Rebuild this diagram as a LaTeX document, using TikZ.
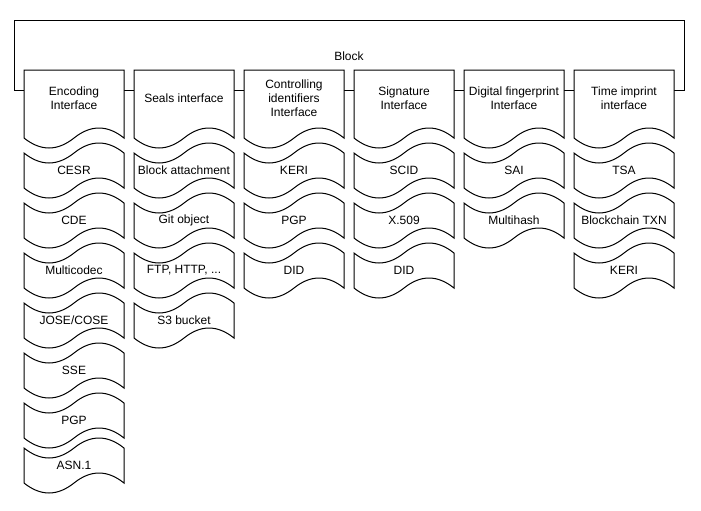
\documentclass[tikz,border=0pt]{standalone}
\usepackage{fontspec}
\setmainfont{Liberation Sans}

\tikzset{
  shapeline/.style={draw=black, fill=white, line width=0.75pt},
  boxtext/.style={align=center, inner sep=0pt, font=\fontsize{9}{10.5}\selectfont},
}

% header: flat top, wavy bottom (left x, name, text)
\newcommand{\headdoc}[3]{%
  \draw[shapeline] (#1,70) -- ({#1+100},70) -- ({#1+100},138) .. controls ({#1+83.33},124.67) and ({#1+66.67},124.67) .. ({#1+50},138) .. controls ({#1+33.33},151.33) and ({#1+16.67},151.33) .. (#1,138) -- cycle;
  \node[boxtext] (#2) at ({#1+50},98) {#3};}

% item: wavy top and bottom (left x, centre y, name, text)
\newcommand{\tapeitem}[4]{%
  \draw[shapeline] (#1,{#2-17.5}) .. controls ({#1+16.67},{#2-4.17}) and ({#1+33.33},{#2-4.17}) .. ({#1+50},{#2-17.5}) .. controls ({#1+66.67},{#2-30.83}) and ({#1+83.33},{#2-30.83}) .. ({#1+100},{#2-17.5}) -- ({#1+100},{#2+17.5}) .. controls ({#1+83.33},{#2+4.17}) and ({#1+66.67},{#2+4.17}) .. ({#1+50},{#2+17.5}) .. controls ({#1+33.33},{#2+30.83}) and ({#1+16.67},{#2+30.83}) .. (#1,{#2+17.5}) -- cycle;
  \node[boxtext] (#3) at ({#1+50},#2) {#4};}

\begin{document}
\begin{tikzpicture}[x=0.75pt,y=0.75pt,yscale=-1,xscale=1]
\useasboundingbox (0,0) rectangle (701,511);

%Shape: Rectangle [block]
\draw [line width=0.75pt] (14,20) rectangle (684,90);
% Text Node
\node[boxtext] (block) at (349,56) {Block};

%Shape: Document [interfaces]
\headdoc{24}{encoding}{Encoding\\Interface}
\headdoc{134}{seals}{Seals interface}
\headdoc{244}{controlling}{Controlling\\identifiers\\Interface}
\headdoc{354}{signature}{Signature\\Interface}
\headdoc{464}{fingerprint}{Digital fingerprint\\Interface}
\headdoc{574}{timeimprint}{Time imprint\\interface}

%Shape: Tape [encoding]
\tapeitem{24}{170.5}{cesr}{CESR}
\tapeitem{24}{220.5}{cde}{CDE}
\tapeitem{24}{270.5}{multicodec}{Multicodec}
\tapeitem{24}{320.5}{josecose}{JOSE/COSE}
\tapeitem{24}{370.5}{sse}{SSE}
\tapeitem{24}{420.5}{encpgp}{PGP}
\tapeitem{24}{465.5}{asn}{ASN.1}

%Shape: Tape [seals]
\tapeitem{134}{170.5}{blockatt}{Block attachment}
\tapeitem{134}{220.5}{gitobj}{Git object}
\tapeitem{134}{270.5}{ftphttp}{FTP, HTTP, ...}
\tapeitem{134}{320.5}{sthree}{S3 bucket}

%Shape: Tape [controlling identifiers]
\tapeitem{244}{170.5}{ctlkeri}{KERI}
\tapeitem{244}{220.5}{ctlpgp}{PGP}
\tapeitem{244}{270.5}{ctldid}{DID}

%Shape: Tape [signature]
\tapeitem{354}{170.5}{scid}{SCID}
\tapeitem{354}{220.5}{xfivenine}{X.509}
\tapeitem{354}{270.5}{sigdid}{DID}

%Shape: Tape [digital fingerprint]
\tapeitem{464}{170.5}{sai}{SAI}
\tapeitem{464}{220.5}{multihash}{Multihash}

%Shape: Tape [time imprint]
\tapeitem{574}{170.5}{tsa}{TSA}
\tapeitem{574}{220.5}{chaintxn}{Blockchain TXN}
\tapeitem{574}{270.5}{timekeri}{KERI}

\end{tikzpicture}
\end{document}
